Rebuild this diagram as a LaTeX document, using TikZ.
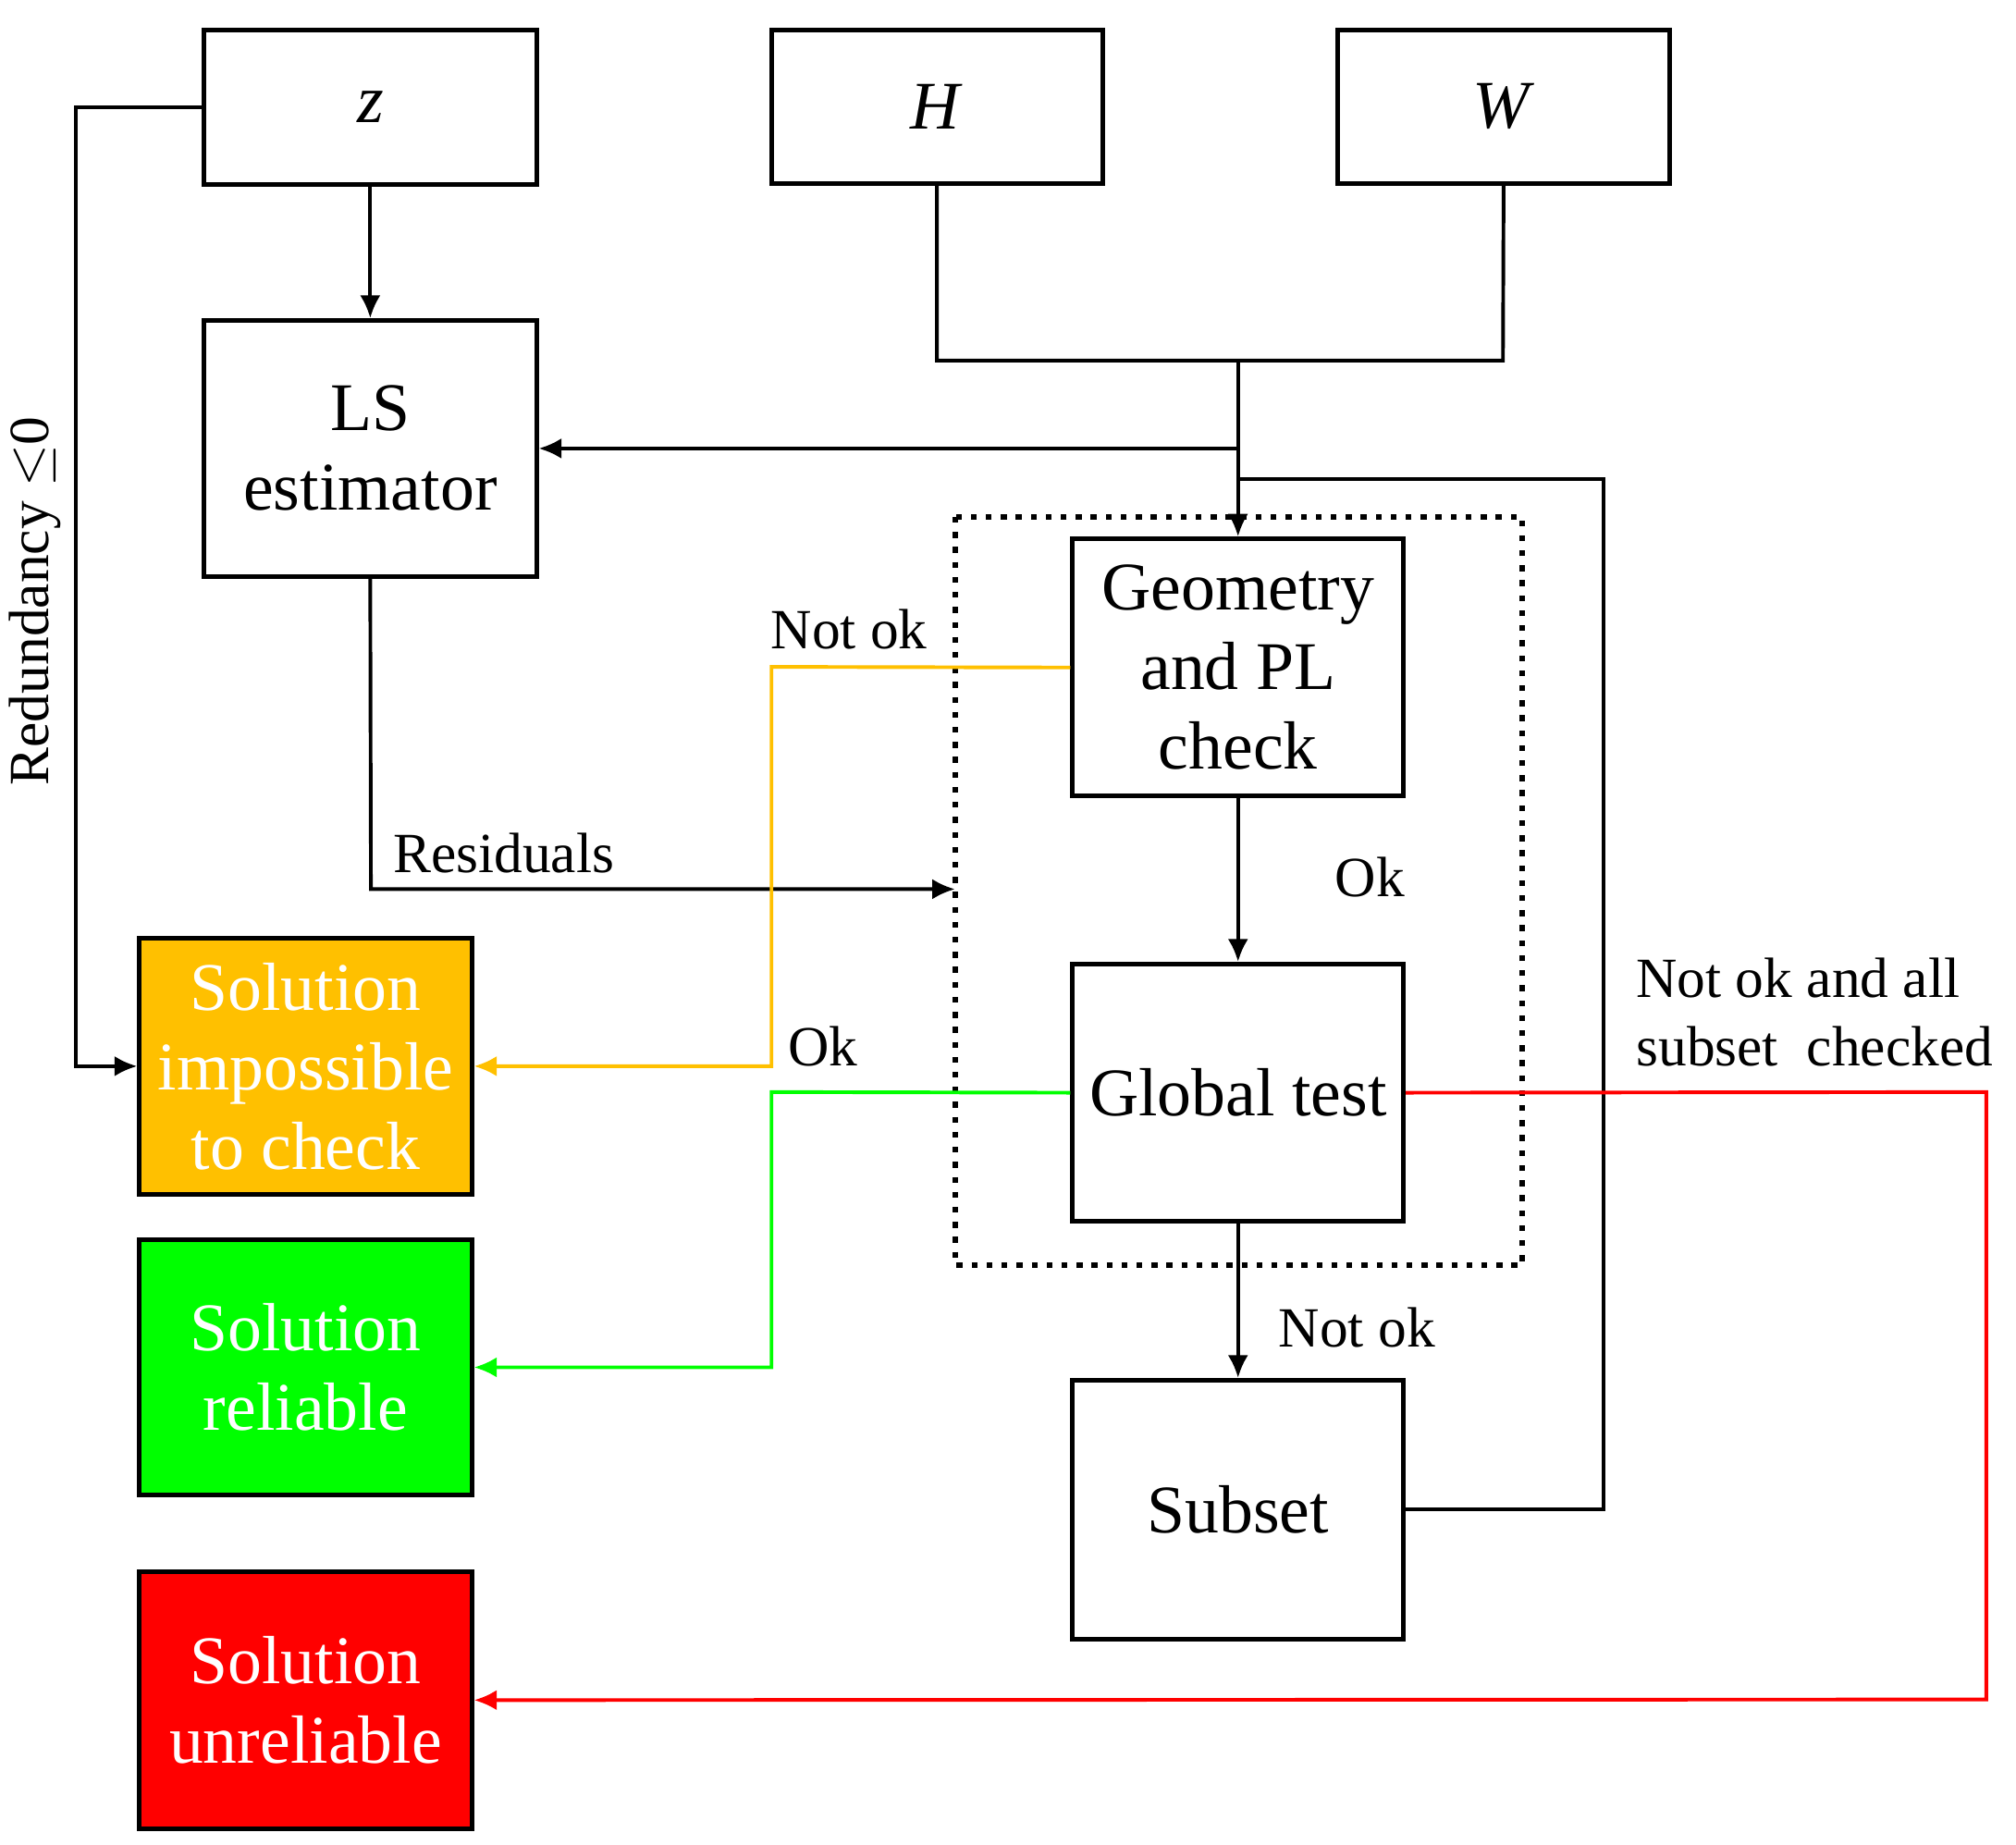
\documentclass[tikz,border=0pt]{standalone}
\usepackage{fontspec}
\setmainfont{Liberation Serif}
\usetikzlibrary{arrows.meta}
\definecolor{org}{HTML}{FFC000}
\definecolor{grn}{HTML}{00FF00}
\begin{document}
\begin{tikzpicture}[x=0.01cm,y=-0.01cm,
 box/.style={draw,line width=1pt,minimum width=257\pgflinewidth,inner sep=0pt,align=center,font=\fontsize{15}{17.5}\selectfont},
 lbl/.style={font=\fontsize{12.5}{15}\selectfont,inner sep=1pt},
 ln/.style={line width=0.8pt},
 arr/.style={ln,-{Latex[length=5pt,width=4.5pt]}}]
\useasboundingbox (0,0) rectangle (1560,1427);
\newcommand{\bx}[5]{\node[box,minimum width=#3*0.01cm,minimum height=#4*0.01cm,#5] (#1) at (#2) {};}
\node[box,minimum width=2.57cm,minimum height=1.2cm] (z) at (286.5,83) {\textit{z}};
\node[box,minimum width=2.56cm,minimum height=1.19cm] (H) at (725,82.5) {\textit{H}};
\node[box,minimum width=2.57cm,minimum height=1.19cm] (W) at (1163.5,82.5) {\textit{W}};
\node[box,minimum width=2.57cm,minimum height=1.98cm] (LS) at (286.5,347) {LS\\estimator};
\node[box,minimum width=2.56cm,minimum height=1.99cm] (G) at (958,516.5) {Geometry\\and PL\\check};
\node[box,minimum width=2.56cm,minimum height=1.99cm] (GT) at (958,845.5) {Global test};
\node[box,minimum width=2.56cm,minimum height=2cm] (S) at (958,1168) {Subset};
\node[box,fill=org,text=white,minimum width=2.57cm,minimum height=1.98cm] (O) at (236.5,825) {Solution\\impossible\\to check};
\node[box,fill=grn,text=white,minimum width=2.57cm,minimum height=1.98cm] (Gr) at (236.5,1058) {Solution\\reliable};
\node[box,fill=red,text=white,minimum width=2.57cm,minimum height=1.99cm] (R) at (236.5,1315.5) {Solution\\unreliable};
\draw[line width=1.3pt,dotted] (739,400) rectangle (1178,979);
\coordinate (dl) at (739,688);
\coordinate (j) at (958,279);
\coordinate (j2) at (958,347);
\coordinate (j3) at (958,371);
\draw[arr] (z.west) -- (59,83) -- (59,825) -- (O.west);
\draw[arr] (z) -- (LS);
\draw[ln] (H.south) -- (725,279) -- (1163,279) -- (W.south);
\draw[arr] (j) -- (G.north);
\draw[arr] (j2) -- (LS.east);
\draw[ln] (S.east) -- (1241,1168) -- (1241,371) -- (j3);
\draw[arr] (LS.south) -- (287,688) -- (dl);
\node[lbl,anchor=west] at (300,660) {Residuals};
\draw[arr,org] (G.west) -- (597,516) -- (597,825) -- (O.east);
\node[lbl] at (657,487) {Not ok};
\draw[arr] (G) -- (GT) node[lbl,pos=0.48,right=20pt] {Ok};
\draw[arr,grn] (GT.west) -- (597,845) -- (597,1058) -- (Gr.east);
\node[lbl] at (637,810) {Ok};
\draw[arr,red] (GT.east) -- (1537,845) -- (1537,1315) -- (R.east);
\node[lbl,anchor=west,align=left] at (1262,783) {Not ok and all\\subset\ \ checked};
\draw[arr] (GT) -- (S);
\node[lbl] at (1050,1027) {Not ok};
\node[lbl,rotate=90] at (27,465) {Redundancy $\leq$0};
\end{tikzpicture}
\end{document}
